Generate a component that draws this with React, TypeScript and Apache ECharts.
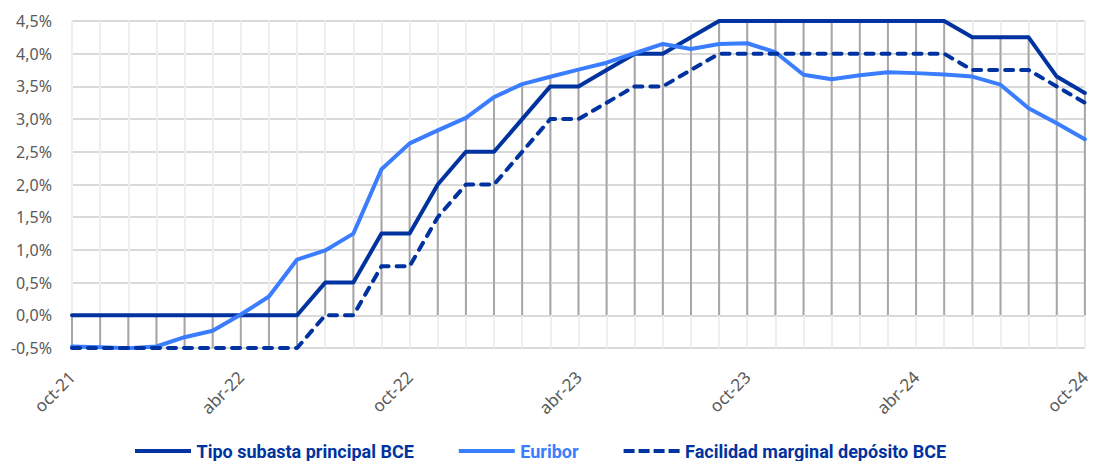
import React, { useEffect, useRef } from "react";
import * as echarts from "echarts";

const months: string[] = [
  "oct-21", "nov-21", "dic-21", "ene-22", "feb-22", "mar-22", "abr-22", "may-22", "jun-22", "jul-22", "ago-22", "sep-22",
  "oct-22", "nov-22", "dic-22", "ene-23", "feb-23", "mar-23", "abr-23", "may-23", "jun-23", "jul-23", "ago-23", "sep-23",
  "oct-23", "nov-23", "dic-23", "ene-24", "feb-24", "mar-24", "abr-24", "may-24", "jun-24", "jul-24", "ago-24", "sep-24",
  "oct-24",
];

const tipoSubasta: number[] = [
  0, 0, 0, 0, 0, 0, 0, 0, 0, 0.5, 0.5, 1.25,
  1.25, 2.0, 2.5, 2.5, 3.0, 3.5, 3.5, 3.75, 4.0, 4.0, 4.25, 4.5,
  4.5, 4.5, 4.5, 4.5, 4.5, 4.5, 4.5, 4.5, 4.25, 4.25, 4.25, 3.65,
  3.4,
];

const euribor: number[] = [
  -0.477, -0.487, -0.502, -0.477, -0.335, -0.237, 0.013, 0.287, 0.852, 0.992, 1.249, 2.233,
  2.629, 2.828, 3.018, 3.337, 3.534, 3.647, 3.757, 3.862, 4.007, 4.149, 4.073, 4.149,
  4.16, 4.022, 3.679, 3.609, 3.671, 3.718, 3.703, 3.681, 3.65, 3.526, 3.166, 2.936,
  2.691,
];

const facilidadDeposito: number[] = [
  -0.5, -0.5, -0.5, -0.5, -0.5, -0.5, -0.5, -0.5, -0.5, 0, 0, 0.75,
  0.75, 1.5, 2.0, 2.0, 2.5, 3.0, 3.0, 3.25, 3.5, 3.5, 3.75, 4.0,
  4.0, 4.0, 4.0, 4.0, 4.0, 4.0, 4.0, 4.0, 3.75, 3.75, 3.75, 3.5,
  3.25,
];

const seriesNames = ["Tipo subasta principal BCE", "Euribor", "Facilidad marginal depósito BCE"];
const DARK = "#0033A0";
const LIGHT = "#3A7DFF";

const SOLID_ICON = "path://M0 0H56V4H0Z";
const DASH_ICON = "path://M0 0H11V4H0Z M15 0H26V4H15Z M30 0H41V4H30Z M45 0H56V4H45Z";

export default function App() {
  const ref = useRef<HTMLDivElement>(null);

  useEffect(() => {
    if (!ref.current) return;
    const chart = echarts.init(ref.current, undefined, { renderer: "svg" });

    const hiLo = months.map((_, i) => {
      const vals = [tipoSubasta[i], euribor[i], facilidadDeposito[i], 0];
      return [i, Math.min(...vals), Math.max(...vals)];
    });

    const font = "'Noto Sans', sans-serif";

    chart.setOption({
      animation: false,
      backgroundColor: "#ffffff",
      grid: { left: 72, right: 6, top: 21, bottom: 113, containLabel: false },
      xAxis: {
        type: "category",
        data: months,
        boundaryGap: false,
        axisLine: { show: false },
        axisTick: { show: false },
        axisLabel: {
          interval: 5,
          rotate: 45,
          margin: 26,
          color: "#595959",
          fontSize: 17,
          fontFamily: font,
        },
        splitLine: { show: true, interval: 0, lineStyle: { color: "#EEEEEE", width: 2 } },
      },
      yAxis: {
        type: "value",
        min: -0.5,
        max: 4.5,
        interval: 0.5,
        axisLine: { show: false },
        axisTick: { show: false },
        axisLabel: {
          margin: 20,
          color: "#595959",
          fontSize: 16,
          fontFamily: font,
          formatter: (v: number) => (Math.abs(v) < 1e-9 ? 0 : v).toFixed(1).replace(".", ",") + "%",
        },
        splitLine: { show: true, lineStyle: { color: "#D9D9D9", width: 2 } },
      },
      legend: {
        top: 437,
        left: 130,
        itemWidth: 57,
        itemHeight: 4,
        itemGap: 45,
        data: [
          { name: seriesNames[0], icon: SOLID_ICON, textStyle: { color: DARK } },
          { name: seriesNames[1], icon: SOLID_ICON, textStyle: { color: LIGHT } },
          { name: seriesNames[2], icon: DASH_ICON, textStyle: { color: DARK } },
        ],
        textStyle: { fontSize: 18, fontWeight: "bold", fontFamily: "Roboto, sans-serif" },
      },
      series: [
        {
          type: "custom",
          name: "hilo",
          z: 1,
          silent: true,
          data: hiLo,
          encode: { x: 0, y: [1, 2] },
          renderItem: (_params: any, api: any) => {
            const x = api.value(0);
            const lo = api.coord([x, api.value(1)]);
            const hi = api.coord([x, api.value(2)]);
            return {
              type: "line",
              shape: { x1: lo[0], y1: lo[1], x2: hi[0], y2: hi[1] },
              style: { stroke: "#A6A6A6", lineWidth: 2 },
            };
          },
        },
        {
          type: "line",
          name: seriesNames[0],
          data: tipoSubasta,
          z: 3,
          symbol: "none",
          lineStyle: { color: DARK, width: 4, cap: "round", join: "round" },
          itemStyle: { color: DARK },
        },
        {
          type: "line",
          name: seriesNames[1],
          data: euribor,
          z: 4,
          symbol: "none",
          lineStyle: { color: LIGHT, width: 4, cap: "round", join: "round" },
          itemStyle: { color: LIGHT },
        },
        {
          type: "line",
          name: seriesNames[2],
          data: facilidadDeposito,
          z: 5,
          symbol: "none",
          lineStyle: { color: DARK, width: 4, type: [8, 8], cap: "round", join: "round" },
          itemStyle: { color: DARK },
        },
      ],
    });

    return () => chart.dispose();
  }, []);

  return (
    <div
      ref={ref}
      style={{ position: "absolute", left: 0, top: 0, width: 1093, height: 461 }}
    />
  );
}
